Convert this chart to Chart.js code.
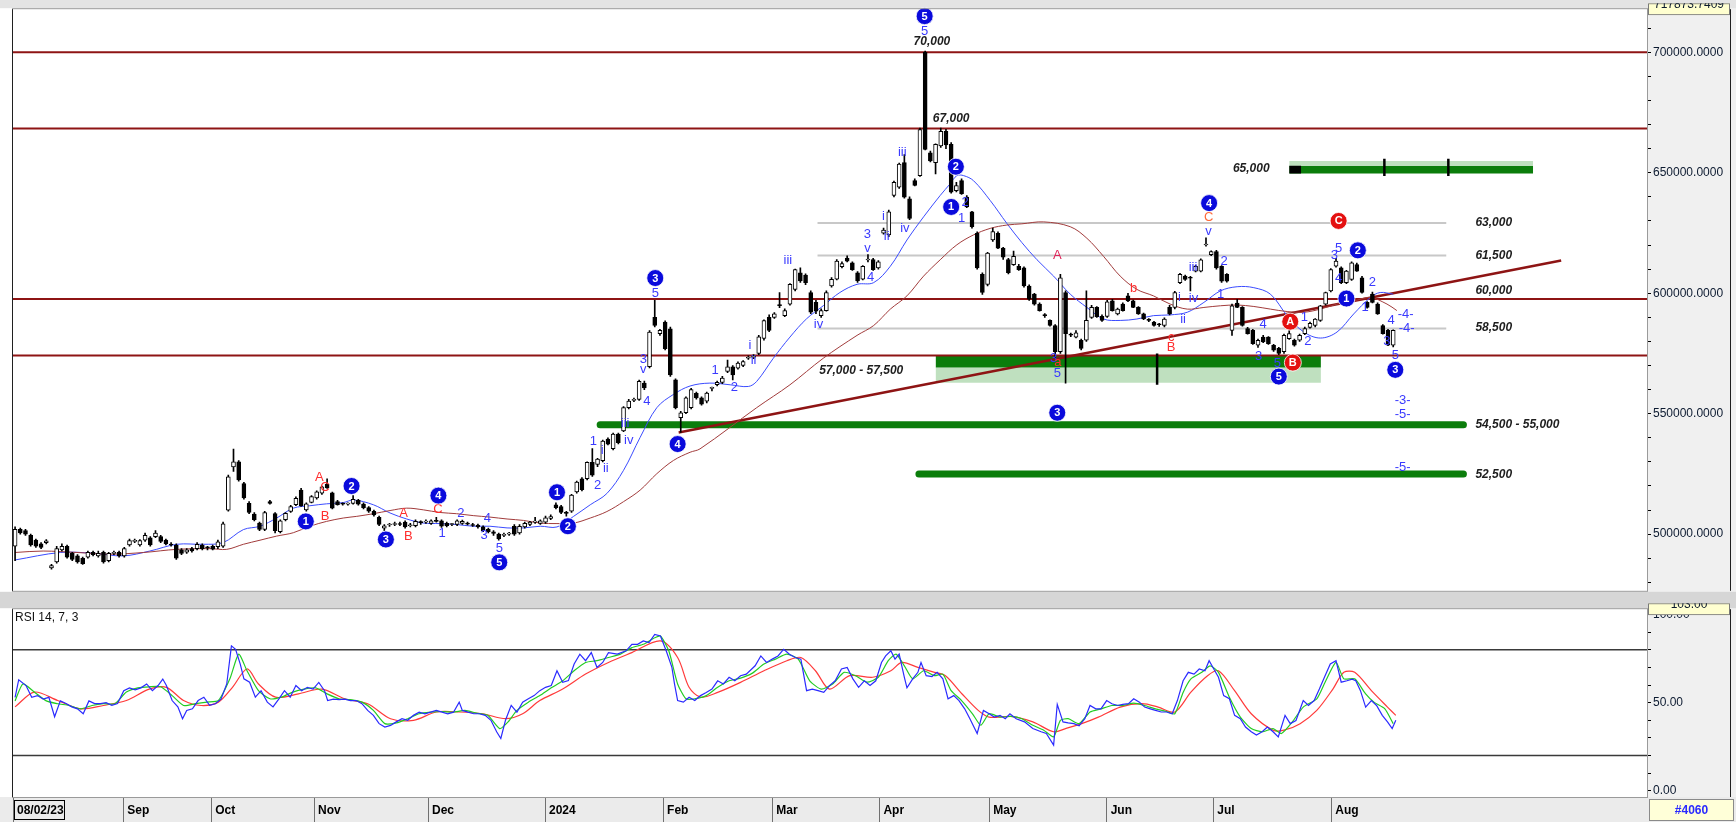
<!DOCTYPE html>
<html>
<head>
<meta charset="utf-8">
<script src="https://cdn.jsdelivr.net/npm/chart.js"></script>
<style>
html, body { margin: 0; padding: 0; background: #d8d8d8; }
#wrap { position: relative; width: 1736px; height: 822px; overflow: hidden; }
canvas { position: absolute; left: 0; }
#price { top: 0; }
#rsi { top: 600px; }
</style>
</head>
<body>
<div id="wrap">
  <canvas id="price" width="1736" height="600"></canvas>
  <canvas id="rsi" width="1736" height="222"></canvas>
</div>
<script>
// prices in thousands (700 = 700000.0000), one candle per trading day, index 0 = 08/02/23
const opens = [
  495,502,501.5,499.5,497.5,496,496.5,486,488.5,493.5,
  495,492,491,490,490.5,492.5,491,492.5,489,492,
  492.5,491,495.5,497,495.5,497.5,498.5,499,499,497.5,
  495.8,495.5,493.5,492.5,494,494,495.5,494.5,495,494.8,
  495,510,527.9,530,521,512.8,508.3,504.6,502,513.5,
  508.5,501,506,509.4,512.2,518.3,510.1,513.2,515,517,
  520.8,517.2,513.5,512.6,512.5,512.8,514,512.5,511,509.5,
  507,502.5,503.8,504,504.2,505,503.5,503.5,505,505,
  504.5,505.5,505.5,504.5,504,504,504.5,504.5,504,503.8,
  503,502,501,500,499.5,500,503.3,500.5,503,504,
  505,504.5,505,506.5,512.2,511.5,509,509.5,517.5,523,
  523,529.8,529,530.5,539.5,535.5,541.5,542.9,552.5,555.5,
  555.9,562.7,569.5,590,583.2,588,585.2,564.1,548.4,550.4,
  552.5,558.5,556.6,555.2,560.5,562,563,567.5,569.5,568.9,
  570,573,573.4,575,581.2,590,590,595.3,590.7,595.5,
  601.6,608.5,607.5,600.3,596.2,590.7,592.8,603,605.8,611,
  614.6,612.6,608.5,605.8,613.8,614,610.5,624.9,624.2,640.6,
  644,654.2,639.2,646.7,648.8,700,658.3,654.2,661.1,667.2,
  661.8,642.6,646.7,639.9,633.8,624.9,607.8,603.7,622.1,624.9,
  618.7,614,611.9,611.2,610.5,603,599.6,595.5,590.9,588.7,
  586.6,575.7,600.3,582.8,581.8,580.5,580.5,590,594.1,590.4,
  590.4,596.8,591.4,595.5,598.9,596.8,594.1,591.4,588.8,588,
  587,586.6,594.1,594.1,604.4,607.1,606.5,609.2,609.2,620,
  616,617.3,611.2,607.8,584.6,595.9,594.1,585.3,584.6,578.4,
  581.8,581.8,578.4,577.1,575.7,581.1,580.5,580.5,583.2,585.8,
  586.6,588.7,595.5,601,611.2,610.5,604.4,605.7,611.9,606.4,
  596.2,599.6,595.5,586.6,584.6,578.4
];
const highs = [
  503,502.5,502,500,498,496.5,497.8,487.5,495,496,
  495.5,492.5,491.5,490.5,493,493,493,493,492.5,493,
  493,494.5,498,498,497.8,500.5,499,501.5,499.5,498,
  496.5,496,494,494,494.5,496.5,496,495,495.5,497.5,
  505,524.5,535.3,530.5,521.5,513.5,509,505,509.5,514,
  509,506,509,512,515.5,519,513,516,518,520,
  523,517.5,514,513,513,516,514.5,513,511.5,510,
  507.5,504,504.5,505,505,505.5,504.5,506,505.5,506,
  506,507,506,505,504.5,506,505.8,505,504.5,504.2,
  503.5,502.5,501.5,500.5,500.5,500.8,504,504,505,505.3,
  507,506,507.5,508,513,512,509.5,516.5,522,523.5,
  530,535.5,531.5,539,540,542,542,553,556,556.5,
  564,563.5,584.5,597,585,588.5,586,564.5,551,557,
  560.5,559,557,559,561,563.5,565.5,572.3,570,571.5,
  572,574,574.5,582.5,589,591,592,600.3,593.5,604,
  610,610.5,608,601,597,593.5,601,606.5,614,613,
  615.5,613,609,611.5,616,614.5,613.5,627,634.5,646.5,
  654,657.5,640,647.5,668.5,700.5,659,662,668.5,668,
  662.5,646,647.5,640.5,634,625.5,608.5,617,627,625.5,
  619,614.5,617.5,612,611,603.5,600,596,591.5,589,
  587,607.8,601,583.5,584.5,581,601,595,594.5,591,
  597,597.5,593.8,596,600,597.2,594.5,591.8,589.5,588.3,
  587.5,589.8,595,600.8,608.3,607.5,607,611.6,614.3,623,
  617.6,617.8,611.5,608.2,595.5,597.5,594.5,585.8,585,581,
  582.5,582,578.8,577.5,583,584.5,581,583,586,588,
  589.5,595,600.5,610.2,614.5,611,609.5,613,612.5,607,
  596.5,600.5,596,587,585,584.8
];
const lows = [
  489,500,499.5,495,494.5,494,496,485.5,488,493,
  490,489,488,487.5,490,491,490.5,488,488.5,491.5,
  490.5,490.5,495,496.5,495,497,495,498.5,496.5,495.5,
  495,489.5,491.5,492,492.5,493.5,493.5,493.5,493.5,494,
  494.5,509.5,526,522,514.5,508.5,505.5,501.5,501.5,512.5,
  500.5,500.5,505.5,509,511.8,511.5,509.5,513,514.5,516.5,
  519,510.5,512,512,512,512.5,512,510.5,509,507.5,
  503.5,501.5,503.2,503.5,503.5,502.5,503,503,504,504.5,
  504,505,502.8,503,503.5,503.5,504,503.8,503.2,502.5,
  501,500.5,499.5,497.5,499,499.5,499.5,500,502.5,503.5,
  504.5,504,504.5,506,510.5,508.5,507.5,509,517,518,
  522.5,524,528,530,537,535,537.5,542.5,552,555,
  555.5,560,569,586,582.5,576.5,565.5,552,542.2,550,
  552,556,553.5,554.5,559.5,561.5,562.5,567,564,568.5,
  569.5,572.5,572.8,574.5,580.5,584,589.5,594,590.3,595,
  601,604.5,603.5,591.5,591.5,590,592.5,602.5,605.5,610.5,
  613,609.5,604.5,605.5,613,609.5,610,624.5,623.5,640,
  643.5,639.5,630.5,644.5,648.5,659.5,654.5,649.5,660.5,660,
  641.5,642,641,635.5,627,610,599.5,603,621.5,618.5,
  614,608,611.5,609.5,602.5,597,595,592.5,590,586.3,
  573,575,562.7,582,581.5,576.5,580,589.5,590,588.3,
  590,592.5,591,592.5,596.5,594,591.2,589,588.2,586.3,
  586.2,586,591,593.5,604,605.3,601,608.8,608.8,619.5,
  615.6,610,604.5,604.6,582.5,594,586.3,583,578.8,577.5,
  579.5,578.8,575.8,574.5,575,580.8,578,580,582.8,585.5,
  586,588.3,595,600.5,610.8,604,604,605.3,609,600,
  593.8,596,591.2,583,578.2,577.7
];
const closes = [
  502,500.5,500,495.5,495,494.5,497.2,487,494,495,
  490.5,489.5,488.5,487.8,492.5,491.5,492,488.5,492,492.3,
  491,494,497.3,497.2,497.3,499.5,495.5,500.5,497,496,
  495.5,490,492,493.5,493,495.8,494,494.3,493.8,496.8,
  504.3,523.8,530,522.5,515,509,506,502,509,512.8,
  501.5,505.5,508.7,511.5,514.9,511.8,512.6,515.6,517.6,519.7,
  519.2,510.8,512.2,512.5,512.6,514.5,512.5,511,509.5,508,
  504,503.5,504.1,504.3,504,503,503.8,505.3,504.8,505,
  505.5,505.3,503.3,503.5,504,505.5,505.3,504.2,503.6,503,
  501.5,501,500.3,498,499.8,500.2,500,503.3,504.5,505,
  505.2,505.5,506.8,507.3,511,509,508.6,516.2,521.6,518.5,
  529.8,524.5,531.2,538.6,537.4,541.5,538,552.5,555.2,555.8,
  563.4,560.7,583.9,586.6,584.6,577,566.1,552.5,550.4,556.6,
  560,556.6,554,558.6,560.7,563,564.8,569.5,566.1,571,
  571.6,573.4,573.6,581.9,588.6,584.6,591.4,594.8,592.8,603.7,
  609.8,605.1,604.4,592.1,592.5,592.8,600.3,605.8,613.3,612.3,
  613.3,609.8,605.1,611.2,614,609.8,613,626.2,633.8,646,
  653.6,639.9,631,644.7,667.9,659.7,654.9,661.8,667.2,661.5,
  641.9,644.7,641.3,635.8,627.6,610.5,600.3,616.7,625.6,618.7,
  615,608.5,615.3,609.8,603,597.5,595.5,592.8,590.7,586.6,
  575.7,606.4,583.2,582.6,583.6,577.1,588.7,594.1,590.3,588.7,
  596.4,592.8,593.4,592.8,596.8,594.1,591.4,589.3,588.7,586.6,
  586.9,589.3,591.4,600.3,607.8,605.7,606.2,611.2,613.9,620.2,
  617.3,610.5,605,605,594.8,594.1,586.6,583.2,579.1,580.5,
  579.8,579.1,576.4,575,582.5,583.2,578.4,582.5,585.3,587.5,
  589.3,594.8,600.3,609.8,613.3,604.4,609.2,612.6,609.2,600.3,
  594.1,596.2,591.4,583.2,578.4,584.6
];

// moving averages drawn on the price pane, [bar, price]
const maFast = [[0,489.3],[8.7,492.4],[15,492.1],[20.8,491],[25.9,493],[31.1,495.8],[36.2,495.8],[40,496.5],[43.9,501.9],[47.1,503.3],[50.3,506.7],[53.5,510.8],[56.7,511.8],[59.9,512.6],[63.1,513.1],[65.1,514.2],[68.9,512.2],[72.1,508.8],[75.3,506.3],[78.5,504.6],[81.7,504.4],[84.9,504],[88.1,503.3],[91.3,503.3],[94.6,502.6],[97.8,502.6],[101,503.3],[104.2,503],[107.4,507.4],[110.6,512.2],[113.8,516.9],[117,526.5],[120.2,540.2],[123.4,552.5],[126.6,558],[129.8,561.5],[133.6,562.7],[137.5,562],[141,561.3],[142.6,563.4],[145.8,573],[149,581.8],[152.2,589.4],[155.4,594.8],[158.6,600.3],[161.9,603.7],[165.1,604.4],[168.3,611.2],[171.5,622.1],[174.7,631.7],[177.9,640.6],[179.8,645.4],[181.1,648.8],[182.4,648.8],[184.3,646.7],[187.5,638.5],[190.7,629],[193.6,621],[196.5,613.9],[199.7,607.1],[202.9,599.6],[206.1,594.1],[209.3,589.3],[212.5,588.7],[215.7,589.3],[218.9,590.7],[222.1,591],[225.4,592.1],[228.6,596.2],[231.8,601],[235,602.7],[238.2,602.3],[241.4,599.6],[244.6,590.7],[247.8,583.9],[251,581.4],[254.2,583.9],[257.4,591.4],[260.6,598.2],[262.5,600.3],[265,599.6]];
const maSlow = [[0,492.4],[5.4,493],[11.9,492.4],[18.3,491.7],[24.7,492.4],[31.1,493.7],[37.5,494],[40.7,493.7],[43.9,495.8],[47.1,497.5],[50.3,499.2],[53.5,500.6],[56.7,503.3],[59.9,505.3],[63.1,506.7],[65.7,507.4],[68.9,508.5],[72.1,509.8],[75.3,510.8],[78.5,510.1],[81.7,509],[84.9,508.5],[88.1,507.7],[91.3,507.1],[94.6,506.3],[97.8,505.7],[101,504.6],[104.2,504.4],[107.4,504.6],[110.6,506.7],[113.8,509.4],[117,513.5],[120.2,518.3],[123.4,525.1],[126.6,530.6],[129.8,534],[131.7,535.4],[142.6,552.5],[149,562],[155.4,573],[161.9,582.5],[165.1,586.6],[168.3,593.4],[171.5,598.9],[174.7,607.1],[177.9,613.9],[181.1,620.1],[184.3,624.2],[187.5,626.9],[190.7,628.3],[193.6,628.8],[197.8,629.6],[202.9,627.6],[206.1,622.8],[209.3,615.3],[212.5,607.1],[215.7,601.6],[218.9,598.9],[222.1,595.5],[225.4,593.4],[228.6,594.1],[231.8,594.8],[235,595.1],[238.2,594.5],[241.4,593.4],[244.6,592.4],[247.8,592.1],[251,593.4],[254.2,595.5],[257.4,596.8],[260.6,598.2],[263.8,595.5],[265.7,592.8]];

// RSI 14, 7, 3 pane, [bar, value]
const rsiLine = [[0,53],[0.7,63],[2.1,59.7],[3.2,53],[4.3,54],[5.4,52],[6.5,53],[7.6,42],[8.7,51],[9.8,49.5],[10.9,47.6],[12,46.5],[13.1,43.7],[14.2,51],[15.3,49.5],[16.4,49.5],[17.5,50],[18.6,48.5],[19.7,49.5],[20.9,56.8],[22,58.4],[23.1,57.3],[24.2,58.4],[25.3,60.6],[26.4,56.8],[27.5,59.7],[28.4,63.4],[29.1,59.7],[30.2,51.2],[31.3,47.6],[32.2,40.9],[33,45.6],[34.1,46.5],[35.2,51.2],[36.3,53.1],[37.4,48.5],[38.5,49.4],[39.6,52],[40.7,60.6],[41.6,82.2],[42.4,80.3],[43.3,71.9],[44,63.5],[45.1,61.6],[46.2,53.1],[47.3,56.8],[48.5,50.3],[49.6,47.6],[50.7,52],[51.8,56.8],[52.9,53.1],[54,59.7],[55.1,56.8],[56.2,58.7],[57.3,57.7],[58.4,61.5],[59.5,56.8],[60.1,51.2],[61.2,52],[62.3,51.7],[63.4,52],[64.5,51.2],[65.6,51.2],[66.7,49.4],[67.8,45.6],[68.9,42.8],[70,38.1],[71.1,36.2],[72.2,37.1],[73.3,39.1],[74.4,40.9],[75.5,40],[76.6,42.8],[77.7,44.6],[78.8,43.7],[79.9,44.6],[81,45.6],[82.1,44.6],[83.2,43.7],[84.3,44.6],[85.4,50.3],[86,45.6],[87.1,44.6],[88.2,43.7],[89.3,43.7],[90.4,42.8],[91.5,40],[92.6,33.5],[93.4,29.7],[94.3,40],[95.4,48.5],[96.5,44.6],[97.6,50.3],[98.7,52.2],[99.8,54],[100.9,56.8],[102,58.7],[103.1,59.7],[104.2,68.1],[105.3,61.6],[106.4,62.5],[107.5,71.9],[108.6,77.5],[109.7,73.8],[110.8,78.4],[111.9,70],[113,72.8],[114.1,78.4],[115.8,77.5],[117.5,79.4],[118.6,83.1],[119.7,83.1],[120.8,85],[121.9,84.1],[123,88.7],[124.1,87.8],[125.2,79.4],[126.3,70],[126.8,60.6],[127.4,51.2],[128.5,50.3],[129.6,53.1],[130.7,51.2],[131.8,54],[132.9,55.8],[134,57.7],[135.1,62.4],[136.2,60.6],[137.3,64.4],[138.4,62.4],[139.5,65.3],[140.6,66.2],[142.3,70.9],[143.4,76.5],[144.5,72.8],[145.6,74.7],[146.7,76.5],[147.8,80.3],[148.9,77.5],[150,75.6],[151.1,74.7],[152.2,56.8],[153.3,57.7],[154.4,56.8],[155.5,55.8],[156.6,59.7],[157.7,62.4],[158.9,69.1],[160,70],[161.1,63.5],[162.2,58.7],[163.3,62.4],[164.4,59.7],[165.5,62.4],[166.6,72.8],[167.4,76.5],[168.4,79.4],[169.2,74.7],[170,77.5],[171,64.4],[171.5,58.4],[172.6,63.5],[173.6,67.2],[174.2,72.8],[175.2,65.3],[176.3,64.8],[177.3,67.2],[178.4,63.5],[179.4,52.2],[180.5,54],[181.5,51.2],[182.6,46.5],[183.6,40.9],[185,32.5],[186.2,45.6],[187.3,43.7],[188.3,41.8],[189.4,42.8],[190.4,40.9],[191.3,43.7],[192.5,40.9],[194.1,39.1],[195.7,35.3],[197.3,33.5],[198.3,32.5],[199.7,25.9],[200.4,49],[201.5,39.1],[202.5,38.5],[203.6,38.1],[204.6,36.9],[205.7,40.9],[206.7,48.4],[207.8,46.5],[208.8,46.5],[209.9,51.2],[210.9,49.4],[212,48.4],[213,49],[214.1,49.4],[215.1,52.2],[216.2,50.3],[217.2,47.5],[218.3,46.5],[219.3,45.6],[220.4,44.7],[221.4,44.7],[222.5,43.7],[223.5,51.2],[224.6,62.4],[225.6,67.2],[226.7,66.2],[227.7,69.1],[228.8,68.1],[229.6,73.8],[230.5,69.1],[231.4,64.4],[232.4,54],[233.5,52.2],[234.5,42.8],[235.6,40.9],[236.6,36.2],[237.7,33.5],[238.7,31.6],[239.8,33.5],[240.8,36.2],[241.9,33.5],[242.9,30.6],[244.2,42.8],[245.2,38.1],[246.3,39.9],[247.7,51.2],[248.7,48.4],[249.8,51.2],[250.8,57.7],[251.9,65.3],[252.9,71.9],[254,73.8],[255,61.6],[256.1,62.4],[257.1,63.3],[257.8,62.4],[258.7,56.8],[259.7,47.5],[260.8,51.2],[261.8,48.4],[262.9,42.8],[263.9,39.1],[264.8,35.3],[265.5,40]];
const rsiFast = [[0,51],[1.5,60.6],[3.7,56],[6,51],[8.2,49.4],[10.4,48.4],[12.6,46.5],[14.8,48.4],[17,49.4],[19.2,49.4],[21.4,56],[23.6,58.4],[25.8,59],[28,59],[30.2,54],[32.4,48.4],[34.7,49.4],[36.9,50.3],[39.1,51.2],[41.3,63.5],[43,77.5],[44.6,68.1],[46.8,56.8],[49,52.2],[51.2,53.1],[53.4,56],[55.6,57.7],[57.8,58.4],[60,55],[62.3,52.2],[64.5,51.7],[66.7,50.3],[68.9,45.6],[71.1,38.1],[73.3,38.5],[75.5,40.9],[77.7,43.7],[79.9,44.6],[82.1,45],[84.3,44.6],[86.5,45.6],[88.7,44.1],[90.9,42.8],[93.2,35.3],[94.8,39.1],[96.5,45.6],[98.7,50.3],[100.9,54],[103.1,58.4],[105.3,62.4],[107.5,68.1],[109.7,72.8],[111.9,73.8],[114.1,75.6],[116.4,77.5],[118.6,81.2],[120.8,83.1],[123,86.8],[124.1,87.8],[125.7,79.4],[127.4,60.6],[129,52.2],[130.7,52.2],[132.9,54],[135.1,58.7],[137.3,62.4],[139.5,63.9],[141.7,66.6],[144,71.9],[146.2,74.7],[148.4,77.5],[150.6,74.7],[152.8,62.4],[155,57.7],[157.2,60.6],[159.4,67.2],[161.6,65.3],[163.8,61.6],[166,64.4],[167.9,73.8],[169.4,77.5],[171,70.9],[172.6,63.5],[174.7,68.1],[176.8,65.3],[178.4,66.2],[180,56.8],[182,51.2],[184.1,43.7],[185.7,37.2],[187.3,43.7],[189.4,41.8],[191.5,42.2],[193.6,40.9],[195.7,37.2],[197.8,34.4],[199.7,30.6],[201,40],[202.5,40.9],[204.6,38.1],[206.7,44.7],[208.8,46.5],[210.9,48.4],[213,48.4],[215.1,49.7],[217.2,48.4],[219.3,46.5],[221.4,45],[223,43.7],[224.6,55.8],[226.1,63.5],[228.2,67.2],[229.8,70.9],[231.4,67.2],[233.5,53.1],[235.6,41.8],[237.7,35.3],[239.8,33.5],[241.9,35.3],[243.5,32.5],[245.6,39.1],[247.7,47.5],[250.3,52.2],[251.9,61.6],[254,72.8],[255.5,63.5],[257.6,63.5],[259.7,55],[261.3,50.3],[263.4,46.5],[265,38.1]];
const rsiSlow = [[0,47.6],[3.7,56],[8.2,51.2],[12.6,46.5],[17,48.4],[21.4,51.2],[25.8,57.7],[29.1,58.7],[32.4,51.2],[35.8,48.4],[39.1,50.3],[41.8,58.7],[44.6,69.1],[46.8,60.6],[50.1,53.1],[54.5,55],[59,57.7],[63.4,52.2],[67.8,49.4],[72.2,40.9],[76.6,40],[81,44.7],[85.4,44.7],[89.9,43.7],[94.3,40.9],[97.6,43.7],[100.9,51.2],[105.3,57.7],[109.7,66.2],[114.1,72.8],[118.6,78.4],[124.1,85],[127.4,75.6],[129.6,58.7],[131.8,53.1],[135.1,55.8],[139.5,61.5],[144,68.1],[148.4,73.8],[151.1,75.6],[153.9,68.1],[156.6,57.7],[160.5,65.3],[164.9,64.4],[168.4,68.1],[170.5,72.8],[173.6,70],[176.8,67.2],[178.9,65.3],[182.1,54.9],[185.2,45.6],[187.3,41.8],[191.5,42.2],[195.7,39.1],[199.7,33.5],[202,35.3],[205.1,38.1],[208.3,41.8],[212.5,47.5],[216.7,49.4],[219.8,47.5],[223,44.7],[226.1,56],[229.3,65.3],[231.4,68.1],[234.5,56.8],[237.7,43.7],[241.9,34.4],[244,34.4],[247.1,38.1],[250.3,45.6],[253.4,57.7],[255.5,67.2],[257.6,67.2],[260.8,56.8],[263.9,47.5],[265.5,42.8]];
const rsiBands = [80, 20];

// date strip
const monthLabels = ['08/02/23', 'Sep', 'Oct', 'Nov', 'Dec', '2024', 'Feb', 'Mar', 'Apr', 'May', 'Jun', 'Jul', 'Aug'];
const monthStarts = [-0.4, 20.8, 37.7, 57.5, 79.4, 101.9, 124.6, 145.6, 166.2, 187.3, 209.9, 230.4, 253.1];

// drawn levels
const redLevels = [700, 668.4, 597.6, 574.2];
const grayLevels = [629.1, 615.7, 585.4];
const grayFrom = 154.3, grayTo = 275.2;
const greenTargets = [[112.5, 278.5, 545.4], [173.8, 278.5, 525]];
const trendLine = [[127.6, 542.2], [297.3, 613.6]];
const zone57 = { from: 177, to: 251.1, levels: [574, 569.2, 562.8] };
const zone65 = { from: 245, to: 291.9, levels: [654.9, 652.9, 649.7], mark: 247.3 };
const zoneTicks = [[219.6, 575, 562], [263.3, 655.8, 648.7], [275.6, 655.8, 648.7]];

// elliott wave marks, [bar, price, text]
const blueBalls = [[55.9,505.3,'1'],[64.7,520,'2'],[71.3,497.8,'3'],[81.4,516,'4'],[93.1,488.3,'5'],[104.2,517.4,'1'],[106.3,503.3,'2'],[123.1,606.3,'3'],[127.4,537.4,'4'],[174.9,715,'5'],[180.9,652.5,'2'],[180,635.8,'1'],[200.4,550.4,'3'],[229.6,637.4,'4'],[243,565.4,'5'],[256,597.8,'1'],[258.2,617.8,'2'],[265.4,568.2,'3']];
const redBalls = [[245.2,588.2,'A'],[245.7,571.2,'B'],[254.5,630,'C']];
const blueMarks = [[82.1,500.5,'1'],[85.7,508.8,'2'],[90.8,506.4,'4'],[90.2,499.4,'3'],[93.1,494,'5'],
  [111.2,538.3,'1'],[112.9,534.7,'i'],[113.6,527.2,'ii'],[112,520.4,'2'],[117.3,545.8,'iii'],[118,538.9,'iv'],[121.5,555,'4'],[120.8,568.5,'v'],[120.8,572.6,'3'],[123.1,600,'5'],
  [134.6,567.9,'1'],[138.3,560.9,'2'],[141.3,578.4,'i'],[142,572.3,'ii'],[148.6,613.7,'iii'],[154.5,586.9,'iv'],[163.9,624.2,'3'],[163.9,618.7,'v'],[164.5,606.4,'4'],[167,632,'i'],[167.6,623.5,'ii'],[170.6,658.3,'iii'],[171.1,627,'iv'],[174.9,708.7,'5'],
  [182.7,637.8,'2'],[182,631,'1'],[199.7,573,'3'],[200.4,566.8,'5'],
  [223.9,598.2,'i'],[224.6,589.3,'ii'],[226.5,610.5,'iii'],[226.6,597.8,'iv'],[229.5,625.8,'v'],[232.5,613.3,'2'],[231.8,599.6,'1'],
  [240,587,'4'],[239.1,573.6,'3'],[242.7,570.9,'5'],[247.9,590,'1'],[248.6,579.8,'2'],[253.7,615.6,'3'],[254.5,618.7,'5'],[254.5,606,'4'],[259.6,594.1,'1'],[261,604.4,'2'],[264.6,588.7,'4'],[263.8,580,'3'],[265.4,574.3,'5'],
  [267.4,591,'-4-'],[267.6,585.3,'-4-'],[266.8,555.5,'-3-'],[266.8,549.7,'-5-'],[266.8,527.6,'-5-']];
const redMarks = [[58.5,523.5,'A'],[59.6,519.4,'C'],[59.6,507.4,'B'],[74.7,508.8,'A'],[75.6,499.2,'B'],[81.3,510.1,'C'],[200.5,571.3,'a'],[215.1,602,'b'],[222.3,581.8,'c'],[222.3,577.3,'B']];
const pinkMarks = [[200.4,615.6,'A']];
const orangeMarks = [[229.5,631.3,'C']];
const levelTexts = [[176.3,704.4,'70,000','center'],[180,672.4,'67,000','center'],[237.7,651.5,'65,000','center'],[162.7,567.7,'57,000 - 57,500','center'],
  [280.8,629.2,'63,000','left'],[280.8,615.6,'61,500','left'],[280.8,601,'60,000','left'],[280.8,585.7,'58,500','left'],[280.8,545.6,'54,500 - 55,000','left'],[280.8,524.6,'52,500','left']];

const FONT = '"Liberation Sans", Arial, sans-serif';
Chart.defaults.font.family = FONT;
Chart.defaults.animation = false;
Chart.defaults.plugins.legend.display = false;
Chart.defaults.plugins.tooltip.enabled = false;

const xMin = -0.4, xMax = 313.8;
const AXIS_W = 89;
const AXIS_TEXT = '#0c1a30';

function seg(x0, x1, y0, y1, color, width, extra) {
  return Object.assign({
    type: 'line',
    data: [{ x: x0, y: y0 }, { x: x1, y: y1 }],
    borderColor: color, borderWidth: width,
    pointRadius: 0, fill: false, order: 4
  }, extra || {});
}

function band(x0, x1, top, bottom, color, order) {
  return [
    seg(x0, x1, top, top, 'rgba(0,0,0,0)', 1, { fill: '+1', backgroundColor: color, order }),
    seg(x0, x1, bottom, bottom, 'rgba(0,0,0,0)', 1, { order })
  ];
}

const pts = (arr) => arr.map(([x, y]) => ({ x, y }));

const priceSets = [];
priceSets.push(...band(zone57.from, zone57.to, zone57.levels[0], zone57.levels[1], '#0b7d0b', 9));
priceSets.push(...band(zone57.from, zone57.to, zone57.levels[1], zone57.levels[2], '#bfe0bf', 9));
priceSets.push(...band(zone65.from, zone65.to, zone65.levels[0], zone65.levels[1], '#bfe0bf', 9));
priceSets.push(...band(zone65.from, zone65.to, zone65.levels[1], zone65.levels[2], '#0b7d0b', 9));
priceSets.push(...band(zone65.from, zone65.mark, zone65.levels[1], zone65.levels[2], '#000000', 8));
grayLevels.forEach(v => priceSets.push(seg(grayFrom, grayTo, v, v, '#c8c8c8', 2, { order: 7 })));
greenTargets.forEach(([a, b, v]) => priceSets.push(seg(a, b, v, v, '#0b7d0b', 7, { order: 6, borderCapStyle: 'round' })));
redLevels.forEach(v => priceSets.push(seg(xMin, xMax, v, v, '#8e1414', 2, { order: 5 })));
priceSets.push(seg(trendLine[0][0], trendLine[1][0], trendLine[0][1], trendLine[1][1], '#8e1414', 2.5, { order: 5 }));
zoneTicks.forEach(([x, a, b]) => priceSets.push(seg(x, x, a, b, '#000000', 2.5, { order: 4 })));
priceSets.push({ type: 'line', data: pts(maSlow), borderColor: '#a23c3c', borderWidth: 1, pointRadius: 0, tension: 0.35, order: 3 });
priceSets.push({ type: 'line', data: pts(maFast), borderColor: '#3b4cff', borderWidth: 1, pointRadius: 0, tension: 0.35, order: 3 });
priceSets.push({
  type: 'bar',
  data: opens.map((o, i) => ({ x: i, y: [lows[i], highs[i]] })),
  backgroundColor: '#000', barThickness: 1, grouped: false, order: 2
});
priceSets.push({
  type: 'bar',
  data: opens.map((o, i) => ({ x: i, y: [o, closes[i]] })),
  backgroundColor: opens.map((o, i) => closes[i] >= o ? '#ffffff' : '#000000'),
  borderColor: '#000', borderWidth: 1, borderSkipped: false,
  barThickness: 4, minBarLength: 1, grouped: false, order: 1
});

function ball(ctx, x, y, txt, fill) {
  ctx.beginPath();
  ctx.arc(x, y, 8.5, 0, Math.PI * 2);
  ctx.fillStyle = fill;
  ctx.fill();
  ctx.lineWidth = 1;
  ctx.strokeStyle = 'rgba(255,255,255,0.8)';
  ctx.stroke();
  ctx.fillStyle = '#ffffff';
  ctx.font = 'bold 11px ' + FONT;
  ctx.fillText(txt, x, y + 0.5);
}

const waveMarks = {
  id: 'waveMarks',
  afterDatasetsDraw(chart) {
    const { ctx, scales: { x, y } } = chart;
    ctx.save();
    ctx.textBaseline = 'middle';
    levelTexts.forEach(([i, v, t, al]) => {
      ctx.font = 'italic bold 12px ' + FONT;
      ctx.fillStyle = '#1e1e1e';
      ctx.textAlign = al;
      ctx.fillText(t, x.getPixelForValue(i), y.getPixelForValue(v));
    });
    ctx.textAlign = 'center';
    ctx.font = '13px ' + FONT;
    const txt = (list, color) => list.forEach(([i, v, t]) => {
      ctx.fillStyle = color;
      ctx.fillText(t, x.getPixelForValue(i), y.getPixelForValue(v));
    });
    txt(blueMarks, '#3a3aff');
    txt(redMarks, '#ff2e2e');
    txt(pinkMarks, '#e0245a');
    txt(orangeMarks, '#ff6a3a');
    blueBalls.forEach(([i, v, t]) => ball(ctx, x.getPixelForValue(i), y.getPixelForValue(v), t, '#0a0adc'));
    redBalls.forEach(([i, v, t]) => ball(ctx, x.getPixelForValue(i), y.getPixelForValue(v), t, '#e41010'));
    ctx.restore();
  }
};

// pale value cell at the top of an axis, text cut by its top edge
function topBox(ctx, a, width, text) {
  const left = a.right + 1, w = width - a.right - 7;
  ctx.save();
  ctx.beginPath();
  ctx.rect(left, a.top - 6, w, 12);
  ctx.clip();
  ctx.fillStyle = '#ffffd0';
  ctx.fillRect(left, a.top - 6, w, 12);
  ctx.strokeStyle = '#7a7a7a';
  ctx.strokeRect(left + 0.5, a.top - 5.5, w - 1, 11);
  ctx.fillStyle = AXIS_TEXT;
  ctx.font = '12px ' + FONT;
  ctx.textAlign = 'center';
  ctx.textBaseline = 'alphabetic';
  ctx.fillText(text, left + w / 2, a.top - 1);
  ctx.restore();
}

const priceFrame = {
  id: 'priceFrame',
  beforeDraw(chart) {
    const { ctx, chartArea: a, width, height } = chart;
    ctx.save();
    ctx.fillStyle = '#ffffff';
    ctx.fillRect(0, 0, width, height);
    ctx.fillStyle = '#f0f0f0';
    ctx.fillRect(a.right, 0, width - a.right, height);
    ctx.fillStyle = '#e4e4e4';
    ctx.fillRect(0, 0, width, a.top - 1);
    ctx.fillStyle = '#d6d6d6';
    ctx.fillRect(0, a.bottom + 1, width, height - a.bottom);
    ctx.restore();
  },
  afterDraw(chart) {
    const { ctx, chartArea: a, width } = chart;
    ctx.save();
    ctx.strokeStyle = '#9a9a9a';
    ctx.lineWidth = 1;
    ctx.strokeRect(a.left - 0.5, a.top - 0.5, a.right - a.left + 1, a.bottom - a.top + 1);
    ctx.strokeStyle = '#202020';
    ctx.beginPath();
    ctx.moveTo(a.left - 0.5, a.top); ctx.lineTo(a.left - 0.5, a.bottom);
    ctx.moveTo(width - 5.5, a.top); ctx.lineTo(width - 5.5, a.bottom);
    ctx.stroke();
    ctx.restore();
    topBox(ctx, a, width, '717873.7409');
  }
};

new Chart(document.getElementById('price'), {
  type: 'line',
  data: { datasets: priceSets },
  options: {
    responsive: false,
    devicePixelRatio: 1,
    events: [],
    layout: { padding: { left: 13, right: 0, top: 6, bottom: 3 } },
    scales: {
      x: { type: 'linear', min: xMin, max: xMax, offset: false, display: false },
      y: {
        type: 'linear', position: 'right', min: 476.5, max: 717.874,
        afterFit: (s) => { s.width = AXIS_W; },
        ticks: {
          stepSize: 10, autoSkip: false, includeBounds: false, padding: 2,
          color: AXIS_TEXT, font: { size: 12 },
          callback: (v) => Math.round(v) % 50 === 0 ? (v * 1000).toFixed(4) : ''
        },
        grid: { drawOnChartArea: false, tickLength: 4, color: '#000' },
        border: { display: true, color: '#000' }
      }
    }
  },
  plugins: [priceFrame, waveMarks]
});

// RSI pane
const rsiSets = [];
rsiBands.forEach(v => rsiSets.push(seg(xMin, xMax, v, v, '#3a3a3a', 1.5, { order: 5 })));
rsiSets.push({ type: 'line', data: pts(rsiSlow), borderColor: '#ff3a3a', borderWidth: 1.2, pointRadius: 0, tension: 0.3, order: 3 });
rsiSets.push({ type: 'line', data: pts(rsiFast), borderColor: '#22cc22', borderWidth: 1.2, pointRadius: 0, tension: 0.2, order: 2 });
rsiSets.push({ type: 'line', data: pts(rsiLine), borderColor: '#2a2aff', borderWidth: 1.2, pointRadius: 0, order: 1 });

const rsiFrame = {
  id: 'rsiFrame',
  beforeDraw(chart) {
    const { ctx, chartArea: a, width, height } = chart;
    ctx.save();
    ctx.fillStyle = '#ffffff';
    ctx.fillRect(0, 0, width, height);
    ctx.fillStyle = '#f0f0f0';
    ctx.fillRect(a.right, 0, width - a.right, a.bottom);
    ctx.fillStyle = '#d6d6d6';
    ctx.fillRect(0, 0, width, a.top - 1);
    ctx.fillStyle = '#ebebeb';
    ctx.fillRect(0, a.bottom, width, height - a.bottom);
    ctx.restore();
  },
  afterDraw(chart) {
    const { ctx, chartArea: a, width, height } = chart;
    ctx.save();
    ctx.strokeStyle = '#9a9a9a';
    ctx.lineWidth = 1;
    ctx.strokeRect(a.left - 0.5, a.top - 0.5, a.right - a.left + 1, a.bottom - a.top + 1);
    ctx.strokeStyle = '#202020';
    ctx.beginPath();
    ctx.moveTo(a.left - 0.5, a.top); ctx.lineTo(a.left - 0.5, a.bottom);
    ctx.moveTo(width - 5.5, a.top); ctx.lineTo(width - 5.5, a.bottom);
    ctx.stroke();
    ctx.fillStyle = '#111';
    ctx.font = '12px ' + FONT;
    ctx.textAlign = 'left';
    ctx.textBaseline = 'middle';
    ctx.fillText('RSI 14, 7, 3', a.left + 2, a.top + 8);
    // first date cell
    ctx.strokeStyle = '#000';
    ctx.strokeRect(a.left + 1.5, a.bottom + 3.5, 50, height - a.bottom - 6);
    // bar count cell
    ctx.fillStyle = '#ffffd8';
    ctx.fillRect(a.right + 2, a.bottom + 2, width - a.right - 4, height - a.bottom - 3);
    ctx.strokeStyle = '#8a8a8a';
    ctx.strokeRect(a.right + 2.5, a.bottom + 2.5, width - a.right - 5, height - a.bottom - 4);
    ctx.fillStyle = '#2a2aff';
    ctx.font = 'bold 12px ' + FONT;
    ctx.textAlign = 'center';
    ctx.fillText('#4060', (a.right + width) / 2, (a.bottom + height) / 2 + 1);
    ctx.restore();
    topBox(ctx, a, width, '103.00');
  }
};

new Chart(document.getElementById('rsi'), {
  type: 'line',
  data: { datasets: rsiSets },
  options: {
    responsive: false,
    devicePixelRatio: 1,
    events: [],
    layout: { padding: { left: 13, right: 0, top: 6, bottom: 0 } },
    scales: {
      x: {
        type: 'linear', min: xMin, max: xMax, offset: false,
        afterBuildTicks: (s) => { s.ticks = monthStarts.map(v => ({ value: v })); },
        afterFit: (s) => { s.height = 25; },
        ticks: {
          autoSkip: false, maxRotation: 0, minRotation: 0, align: 'start',
          labelOffset: 4, padding: -19, color: '#000',
          font: { size: 12, weight: 'bold' },
          callback: (v, i) => monthLabels[i]
        },
        grid: { drawOnChartArea: false, tickLength: 25, color: '#707070' },
        border: { display: true, color: '#000' }
      },
      y: {
        type: 'linear', position: 'right', min: -3.5, max: 103,
        afterFit: (s) => { s.width = AXIS_W; },
        ticks: {
          stepSize: 10, autoSkip: false, includeBounds: false, padding: 2,
          color: AXIS_TEXT, font: { size: 12 },
          callback: (v) => [0, 50, 100].includes(Math.round(v)) ? v.toFixed(2) : ''
        },
        grid: { drawOnChartArea: false, tickLength: 4, color: '#000' },
        border: { display: true, color: '#000' }
      }
    }
  },
  plugins: [rsiFrame]
});
</script>
</body>
</html>
